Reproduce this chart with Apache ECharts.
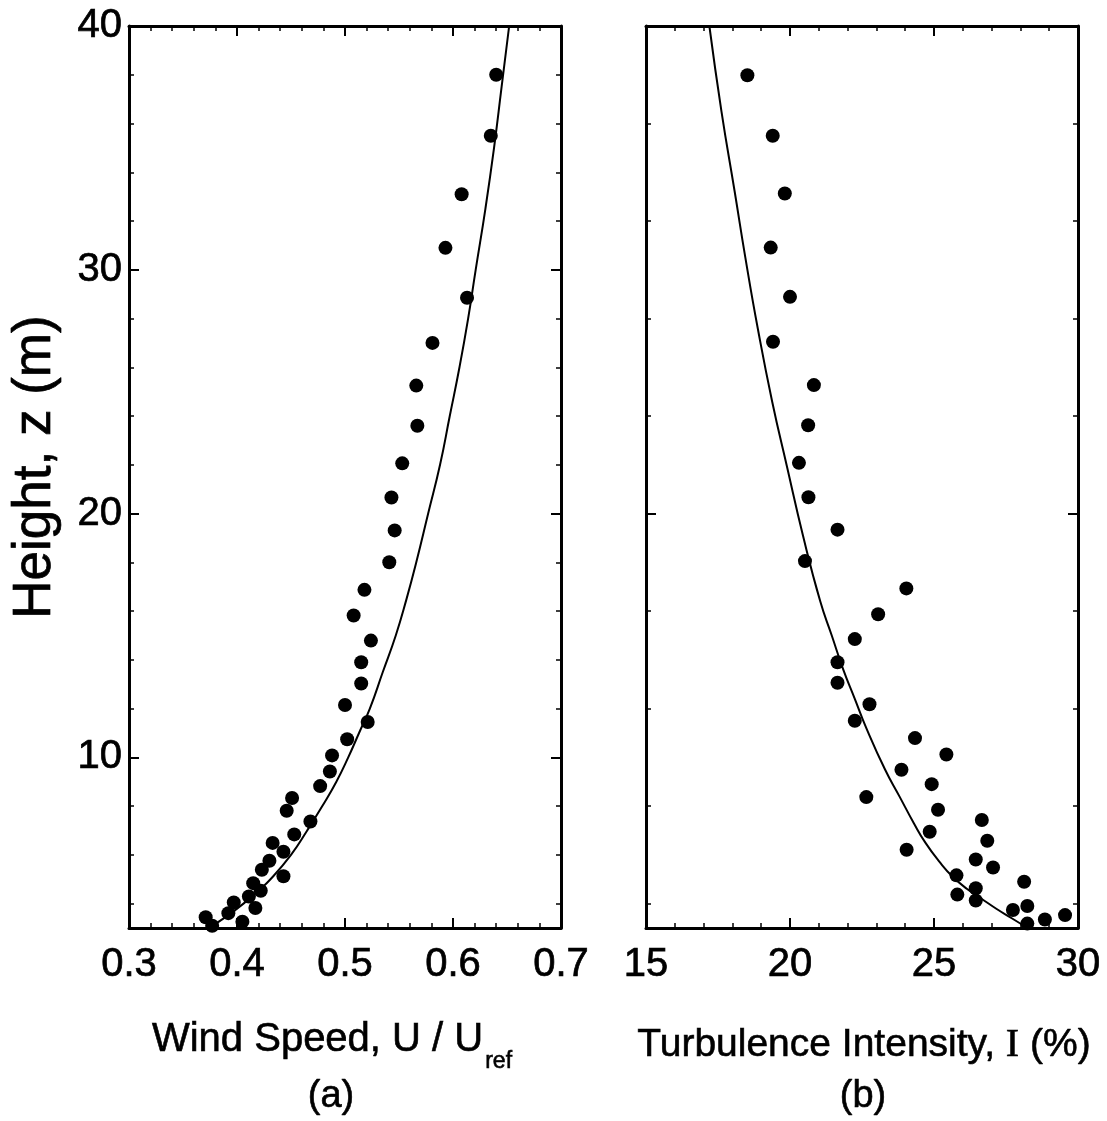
<!DOCTYPE html>
<html>
<head>
<meta charset="utf-8">
<script src="https://cdn.jsdelivr.net/npm/echarts@6/dist/echarts.min.js"></script>
<style>
html,body{margin:0;padding:0;background:#fff;}
#chart{width:1107px;height:1121px;}
</style>
</head>
<body>
<div id="chart"></div>
<script>
// ---- Panel (a): wind speed profile ----
const windHeights = [38.0, 35.5, 33.1, 30.9, 28.85, 27.0, 25.25, 23.6, 22.06, 20.66, 19.31, 18.0, 16.87, 15.82, 14.79, 13.9, 13.03, 12.15, 11.45, 10.74, 10.08, 9.42, 8.82, 8.33, 7.81, 7.37, 6.84, 6.49, 6.13, 5.76, 5.39, 5.12, 4.84, 4.53, 4.29, 4.05, 3.82, 3.61, 3.44, 3.26, 3.09];
const windSpeeds  = [0.640, 0.635, 0.608, 0.593, 0.613, 0.581, 0.566, 0.567, 0.553, 0.543, 0.546, 0.541, 0.518, 0.508, 0.524, 0.515, 0.515, 0.500, 0.521, 0.502, 0.488, 0.486, 0.477, 0.451, 0.446, 0.468, 0.453, 0.433, 0.443, 0.430, 0.423, 0.443, 0.415, 0.422, 0.411, 0.397, 0.417, 0.392, 0.371, 0.405, 0.377];
const windFitHeights = [3.0, 3.5, 4.0, 4.5, 5.0, 6.0, 7.0, 8.0, 9.0, 10.0, 11.0, 12.0, 13.5, 15.0, 16.5, 18.0, 20.0, 22.0, 24.0, 26.0, 28.0, 30.0, 32.5, 35.0, 37.5, 40.0];
const windFitSpeeds  = [0.374, 0.391, 0.406, 0.419, 0.431, 0.450, 0.465, 0.479, 0.492, 0.503, 0.513, 0.523, 0.535, 0.547, 0.557, 0.566, 0.577, 0.588, 0.597, 0.606, 0.614, 0.621, 0.630, 0.638, 0.645, 0.652];

// ---- Panel (b): turbulence intensity profile ----
const tiHeights = [37.98, 35.5, 33.13, 30.91, 28.89, 27.05, 25.27, 23.62, 22.08, 20.67, 19.34, 18.05, 16.93, 15.87, 14.85, 13.9, 13.06, 12.18, 11.5, 10.79, 10.12, 9.49, 8.9, 8.37, 7.85, 7.43, 6.95, 6.58, 6.21, 5.81, 5.48, 5.16, 4.9, 4.63, 4.37, 4.13, 3.74, 3.9, 3.35, 3.53, 3.18];
const tiValues  = [18.52, 19.40, 19.82, 19.33, 20.0, 19.41, 20.83, 20.63, 20.31, 20.64, 21.65, 20.52, 24.04, 23.06, 22.25, 21.65, 21.65, 22.76, 22.25, 24.34, 25.43, 23.87, 24.92, 22.65, 25.14, 26.66, 24.85, 26.85, 24.05, 26.45, 27.05, 25.78, 28.13, 26.45, 25.81, 26.45, 27.74, 28.24, 28.85, 29.55, 28.24];
const tiFitHeights = [3.0, 3.4, 3.8, 4.2, 4.6, 5.1, 5.7, 6.5, 7.3, 8.4, 9.5, 11.2, 12.4, 13.6, 15.0, 16.4, 19.1, 21.9, 24.6, 27.6, 30.5, 33.2, 36.5, 40.0];
const tiFitValues  = [28.25, 27.7, 27.15, 26.65, 26.15, 25.65, 25.2, 24.7, 24.3, 23.8, 23.3, 22.65, 22.25, 21.85, 21.45, 21.05, 20.45, 19.9, 19.38, 18.88, 18.45, 18.08, 17.62, 17.2];

// ---- Tick values ----
const heightLabelTicks = [10, 20, 30, 40];
const heightMinorTicksA = [4, 6, 8, 12, 14, 16, 18, 22, 24, 26, 28, 32, 34, 36, 38];
const heightMajorTicksB = [20, 40];
const heightMinorTicksB = [4, 8, 12, 16, 24, 28, 32, 36];

const zip = (xs, ys) => xs.map((x, i) => [x, ys[i]]);

const FONT = '"Liberation Sans", Arial, Helvetica, sans-serif';
const INK = '#000';
const lineStyle = {color: INK, width: 3};
const heavy = {textBorderColor: INK, textBorderWidth: 0.7};

function xAxes(gridIndex, min, max, interval, fmt) {
  const base = {
    type: 'value', gridIndex, min, max, interval,
    splitLine: {show: false},
    axisLine: {show: true, onZero: false, lineStyle},
    axisTick: {show: true, inside: true, length: 10, lineStyle: {color: INK, width: 2}},
    minorTick: {show: true, splitNumber: 5, length: 5, lineStyle: {color: INK, width: 1.5}},
    minorSplitLine: {show: false}
  };
  return [
    Object.assign({}, base, {
      position: 'bottom',
      axisLabel: Object.assign({show: true, margin: 17, fontSize: 40, fontFamily: FONT, color: INK,
        formatter: v => fmt(v)}, heavy)
    }),
    Object.assign({}, base, {position: 'top', axisLabel: {show: false}})
  ];
}

function yAxes(gridIndex, majors, minors, showLabels) {
  const base = {
    type: 'value', gridIndex, min: 3, max: 40,
    splitLine: {show: false},
    axisLine: {show: true, onZero: false, lineStyle}
  };
  const major = (pos, labels) => Object.assign({}, base, {
    position: pos,
    axisTick: {show: true, inside: true, length: 10, customValues: majors, lineStyle: {color: INK, width: 2}},
    axisLabel: labels ? Object.assign({show: true, customValues: heightLabelTicks, margin: 7, fontSize: 40, fontFamily: FONT, color: INK}, heavy)
                      : {show: false}
  });
  const minor = (pos) => Object.assign({}, base, {
    position: pos,
    axisLine: {show: false},
    axisTick: {show: true, inside: true, length: 5, customValues: minors, lineStyle: {color: INK, width: 1.5}},
    axisLabel: {show: false}
  });
  return [major('left', showLabels), minor('left'), major('right', false), minor('right')];
}

const chart = echarts.init(document.getElementById('chart'), null, {renderer: 'canvas'});

const option = {
  backgroundColor: '#fff',
  animation: false,
  grid: [
    {left: 129, top: 26, width: 432, height: 902},
    {left: 646, top: 26, width: 432, height: 902}
  ],
  xAxis: [
    ...xAxes(0, 0.3, 0.7, 0.1, v => v.toFixed(1)),
    ...xAxes(1, 15, 30, 5, v => String(v))
  ],
  yAxis: [
    ...yAxes(0, heightLabelTicks, heightMinorTicksA, true),
    ...yAxes(1, heightMajorTicksB, heightMinorTicksB, false)
  ],
  series: [
    {type: 'line', xAxisIndex: 0, yAxisIndex: 0, data: zip(windFitSpeeds, windFitHeights),
     smooth: true, showSymbol: false, clip: true, lineStyle: {color: INK, width: 2}, z: 2},
    {type: 'scatter', xAxisIndex: 0, yAxisIndex: 0, data: zip(windSpeeds, windHeights),
     symbol: 'circle', symbolSize: 14, itemStyle: {color: '#000', opacity: 1}, clip: false, z: 3},
    {type: 'line', xAxisIndex: 2, yAxisIndex: 4, data: zip(tiFitValues, tiFitHeights),
     smooth: true, showSymbol: false, clip: true, lineStyle: {color: INK, width: 2}, z: 2},
    {type: 'scatter', xAxisIndex: 2, yAxisIndex: 4, data: zip(tiValues, tiHeights),
     symbol: 'circle', symbolSize: 14, itemStyle: {color: '#000', opacity: 1}, clip: false, z: 3}
  ],
  graphic: [
    {type: 'text', x: 35, y: 467, rotation: Math.PI / 2,
     style: {text: 'Height, z (m)', font: '53px ' + FONT, fill: INK, stroke: INK, lineWidth: 0.7, align: 'center', verticalAlign: 'middle'}},
    {type: 'text', x: 332, y: 1043,
     style: {text: '{m|Wind Speed, U / U}{s|ref}', align: 'center', verticalAlign: 'middle', fill: INK, stroke: INK, lineWidth: 0.6,
       rich: {
         m: {fontSize: 40, fontFamily: FONT, color: INK, lineHeight: 46, verticalAlign: 'top'},
         s: {fontSize: 23, fontFamily: FONT, color: INK, lineHeight: 23, verticalAlign: 'top', padding: [30, 0, 0, 2]}
       }}},
    {type: 'text', x: 331, y: 1097,
     style: {text: '(a)', font: '38px ' + FONT, fill: INK, stroke: INK, lineWidth: 0.6, align: 'center', verticalAlign: 'middle'}},
    {type: 'text', x: 864, y: 1045,
     style: {text: '{m|Turbulence Intensity, }{i|I}{m| (%)}', align: 'center', verticalAlign: 'middle', fill: INK, stroke: INK, lineWidth: 0.6,
       rich: {
         m: {fontSize: 39, fontFamily: FONT, color: INK},
         i: {fontSize: 40, fontFamily: '"Liberation Serif", "Times New Roman", serif', color: INK}
       }}},
    {type: 'text', x: 863, y: 1097,
     style: {text: '(b)', font: '38px ' + FONT, fill: INK, stroke: INK, lineWidth: 0.6, align: 'center', verticalAlign: 'middle'}}
  ]
};

chart.setOption(option);
</script>
</body>
</html>
